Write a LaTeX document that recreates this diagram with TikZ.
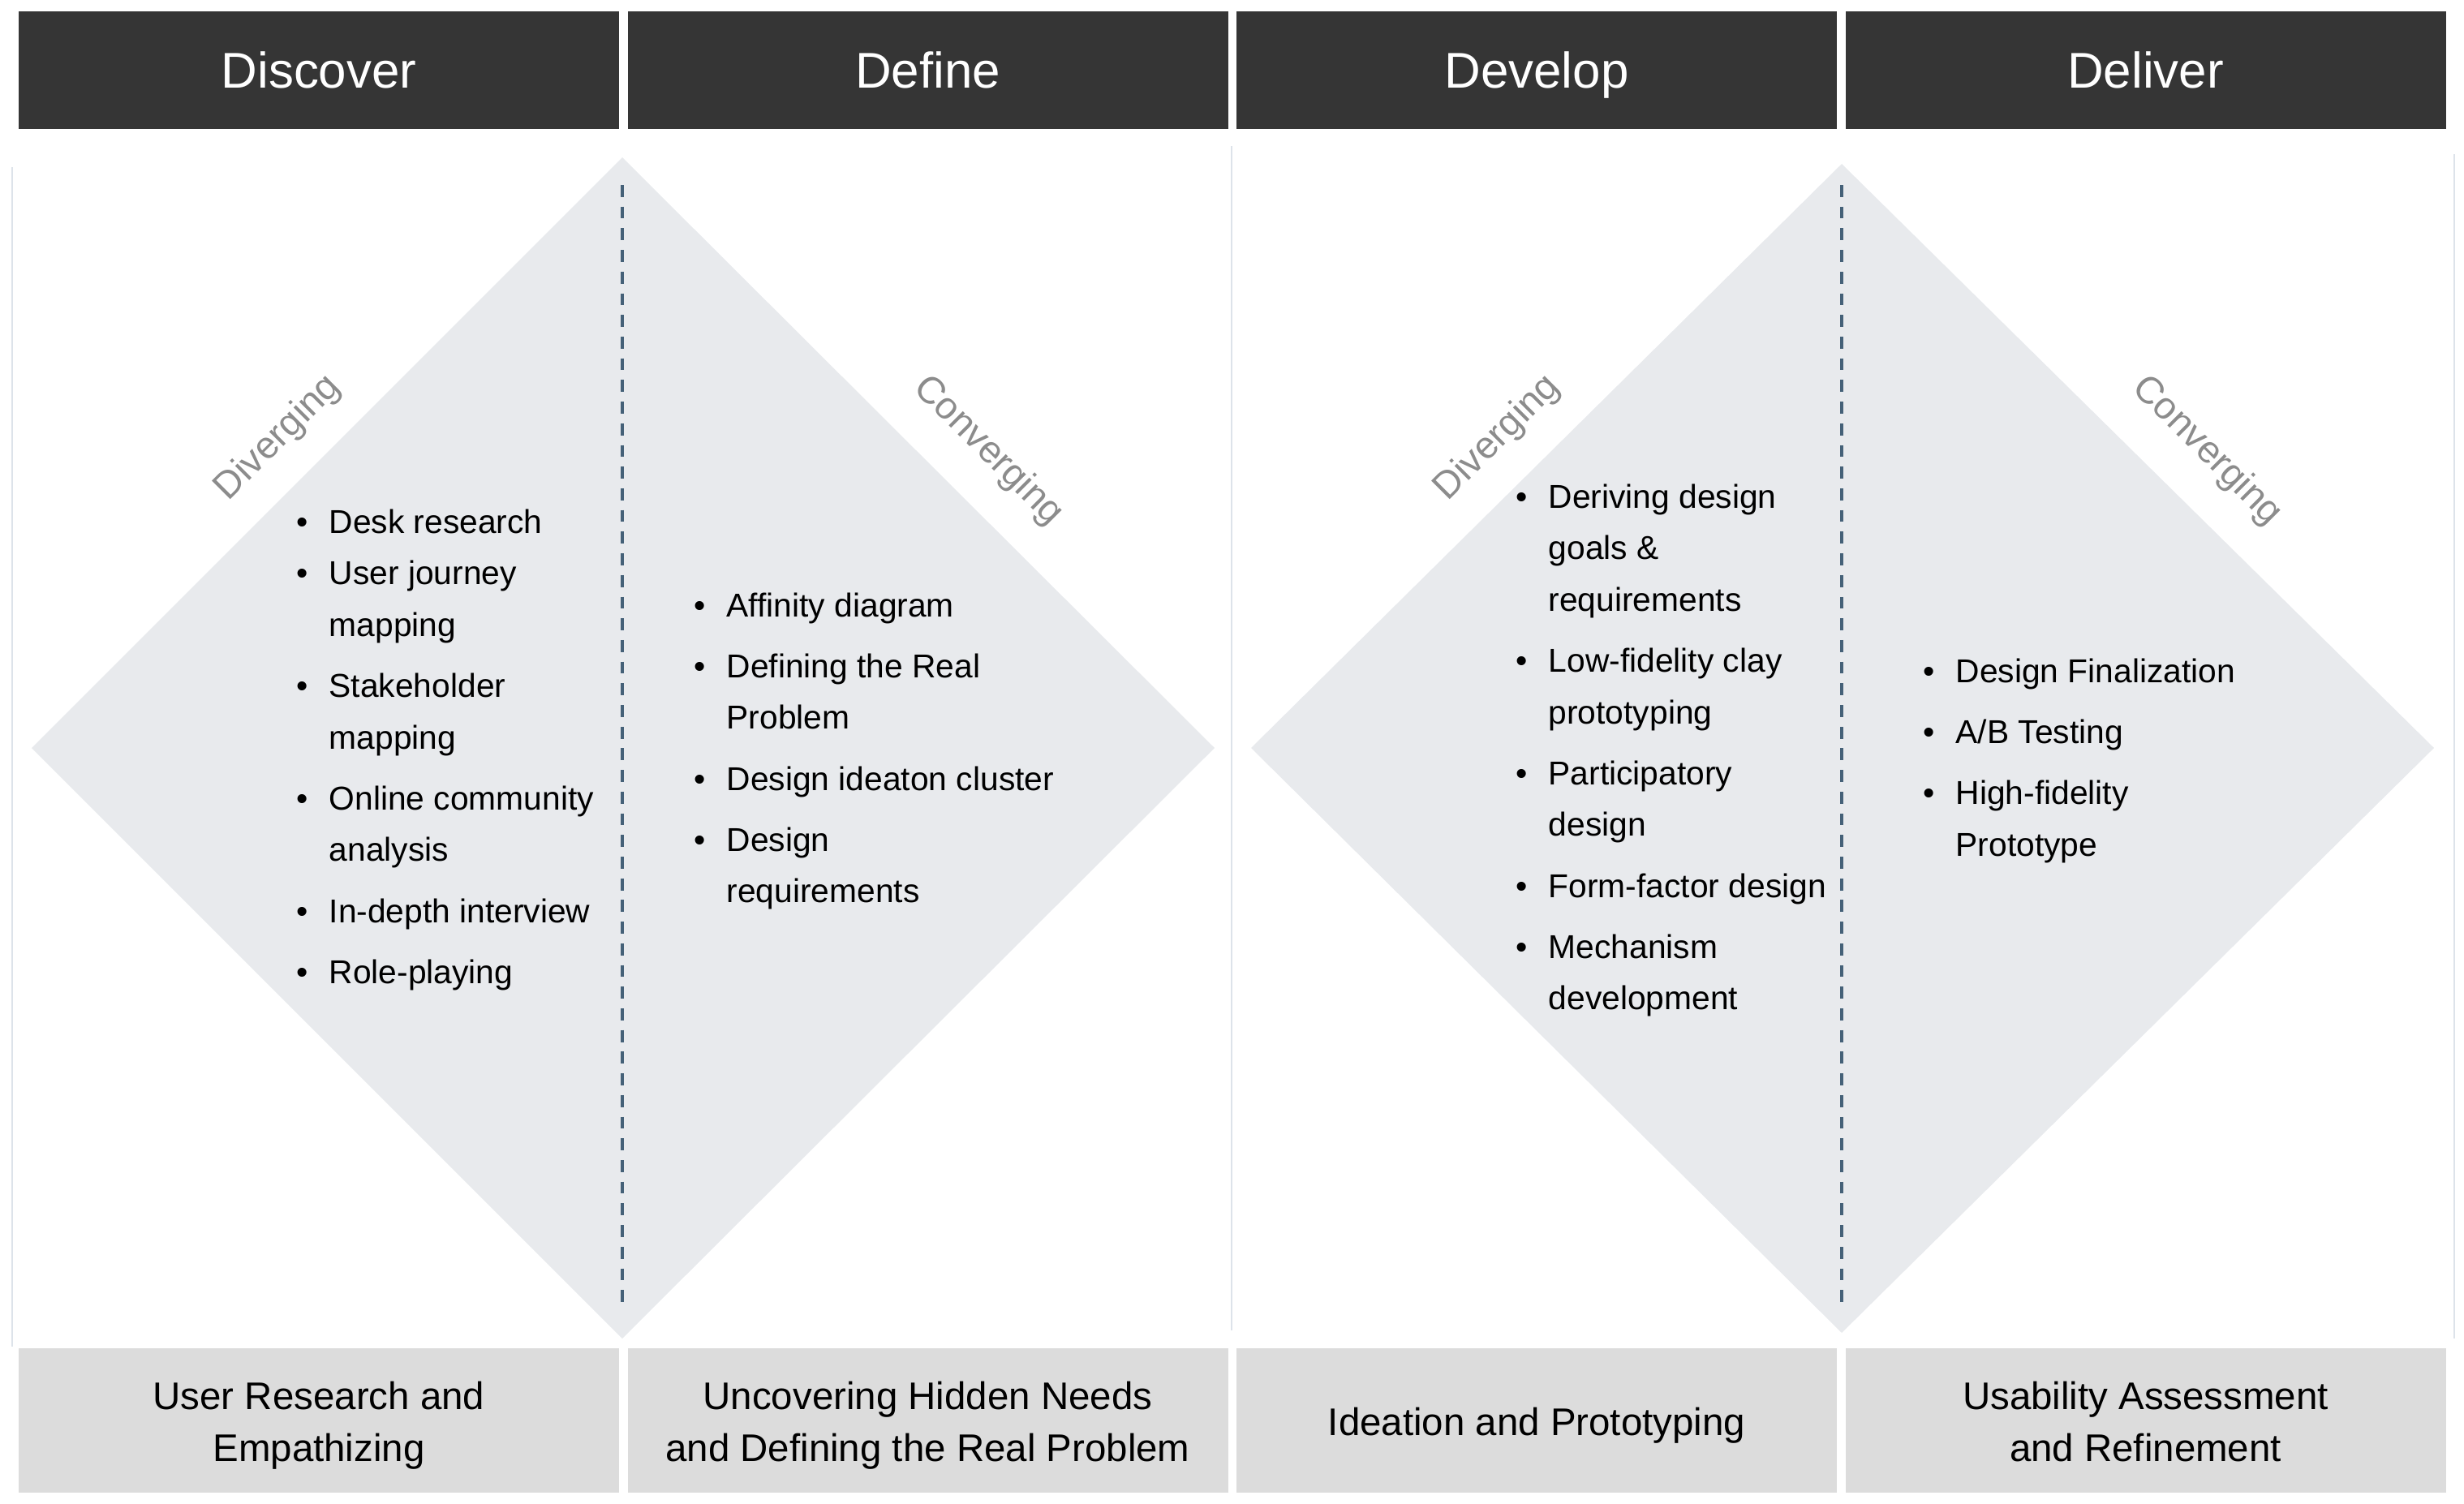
\documentclass[tikz,border=0pt]{standalone}
\usepackage{fontspec}
\setmainfont{Liberation Sans}

\definecolor{headgray}{HTML}{353535}
\definecolor{footgray}{HTML}{DCDCDC}
\definecolor{diafill}{HTML}{E8EAED}
\definecolor{dashblue}{HTML}{456178}
\definecolor{rulegray}{HTML}{DDE3EA}
\definecolor{labgray}{HTML}{8C8C8C}

\newcommand{\blist}[1]{\begin{tabular}[t]{@{}p{0.40cm}@{}l@{}}#1\end{tabular}}
\newcommand{\ftext}[1]{\raisebox{-1.7pt}[\height][\depth]{\begin{tabular}{@{}c@{}}#1\end{tabular}}}

\begin{document}
\begin{tikzpicture}[
  head/.style={fill=headgray, text=white, minimum width=7.4cm, minimum height=1.455cm,
    text height=14.3pt, text depth=2.0pt, font=\fontsize{17.6}{21}\selectfont},
  foot/.style={fill=footgray, minimum width=7.4cm, minimum height=1.78cm,
    font=\fontsize{13.5}{18.1}\selectfont},
  side/.style={text=labgray, font=\fontsize{13.3}{16}\selectfont},
  list/.style={anchor=base west, inner sep=0pt, font=\fontsize{11.6}{18.1}\selectfont},
  midline/.style={dashblue, line width=0.95pt, dash pattern=on 4.2pt off 3.4pt},
  frameline/.style={rulegray, line width=0.7pt}]
  \useasboundingbox (0,0) rectangle (30.37,-18.53);

  \draw[frameline] (0.15,-2.06) -- (0.15,-16.60);
  \draw[frameline] (15.18,-1.80) -- (15.18,-16.40);
  \draw[frameline] (30.25,-1.90) -- (30.25,-16.50);

  \fill[diafill] (0.39,-9.22) -- (7.67,-1.94) -- (14.97,-9.22) -- (7.67,-16.50) -- cycle;
  \fill[diafill] (15.42,-9.22) -- (22.70,-2.02) -- (30.00,-9.22) -- (22.70,-16.43) -- cycle;
  \draw[midline] (7.67,-2.28) -- (7.67,-16.13);
  \draw[midline] (22.70,-2.28) -- (22.70,-16.13);

  \foreach \name/\x in {Discover/3.93,Define/11.435,Develop/18.94,Deliver/26.445}
    \node[head] (hd\name) at (\x,-0.865) {\name};
  \foreach \i/\x/\txt in {1/3.93/{User Research and\\Empathizing},
                          2/11.435/{Uncovering Hidden Needs\\and Defining the Real Problem},
                          3/18.94/{Ideation and Prototyping},
                          4/26.445/{Usability Assessment\\and Refinement}}
    \node[foot] (ft\i) at (\x,-17.51) {\ftext{\txt}};

  \node[side, rotate=45] (div1) at (3.43,-5.40) {Diverging};
  \node[side, rotate=-45] (con1) at (12.18,-5.56) {Converging};
  \node[side, rotate=45] (div2) at (18.46,-5.40) {Diverging};
  \node[side, rotate=-45] (con2) at (27.20,-5.56) {Converging};

  \node[list] (lst1) at (3.65,-6.57) {\blist{
    \textbullet & Desk research\\
    \textbullet & User journey\\ & mapping\\[3.3pt]
    \textbullet & Stakeholder\\ & mapping\\[3.3pt]
    \textbullet & Online community\\ & analysis\\[3.3pt]
    \textbullet & In-depth interview\\[3.3pt]
    \textbullet & Role-playing}};
  \node[list] (lst2) at (8.55,-7.60) {\blist{
    \textbullet & Affinity diagram\\[3.3pt]
    \textbullet & Defining the Real\\ & Problem\\[3.3pt]
    \textbullet & Design ideaton cluster\\[3.3pt]
    \textbullet & Design\\ & requirements}};
  \node[list] (lst3) at (18.68,-6.26) {\blist{
    \textbullet & Deriving design\\ & goals \&\\ & requirements\\[3.3pt]
    \textbullet & Low-fidelity clay\\ & prototyping\\[3.3pt]
    \textbullet & Participatory\\ & design\\[3.3pt]
    \textbullet & Form-factor design\\[3.3pt]
    \textbullet & Mechanism\\ & development}};
  \node[list] (lst4) at (23.70,-8.41) {\blist{
    \textbullet & Design Finalization\\[3.3pt]
    \textbullet & A/B Testing\\[3.3pt]
    \textbullet & High-fidelity\\ & Prototype}};
\end{tikzpicture}
\end{document}
